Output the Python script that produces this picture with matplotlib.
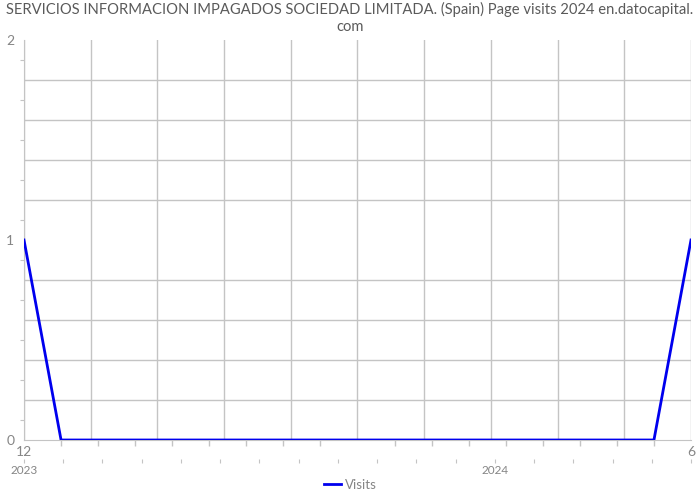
import matplotlib
matplotlib.use("Agg")
import matplotlib.pyplot as plt
import numpy as np

# weekly-ish points, Dec 2023 .. Jun 2024
visits = [1, 0, 0, 0, 0, 0, 0, 0, 0, 0, 0, 0, 0, 0, 0, 0, 0, 0, 1]
x = np.arange(len(visits))
year_labels = {0: "2023", 12: "2024"}
end_labels = ["12", "6"]

grey = "#858585"
grid_col = "#c4c4c4"
plt.rcParams["font.family"] = ["Lato", "DejaVu Sans"]

fig = plt.figure(figsize=(7, 5), dpi=100)
ax = fig.add_axes([24 / 700, 0.12, 667 / 700, 0.80])

ax.plot(x, visits, color="#0000ee", lw=2, label="Visits", zorder=3)

ax.set_xlim(0, len(visits) - 1)
ax.set_ylim(0, 2)

# grid
ax.set_xticks(np.linspace(0, len(visits) - 1, 11))
ax.set_xticklabels([])
ax.set_xticks(x, minor=True)
ax.set_yticks([0, 1, 2])
ax.set_yticks(np.arange(0, 2.01, 0.2), minor=True)
ax.grid(True, which="major", axis="x", color=grid_col, lw=1)
ax.grid(True, which="minor", axis="y", color=grid_col, lw=1)
ax.tick_params(axis="x", which="major", length=0)
ax.tick_params(axis="x", which="minor", length=4, color=grid_col, width=1)
ax.tick_params(axis="y", which="both", length=0, labelsize=10, labelcolor=grey, pad=7)

for s in ["top", "right"]:
    ax.spines[s].set_visible(False)
for s in ["left", "bottom"]:
    ax.spines[s].set_color(grid_col)

# small marks between the y grid lines
sy = ax.secondary_yaxis("left")
sy.set_yticks(np.arange(0.1, 2, 0.2))
sy.set_yticklabels([])
sy.tick_params(length=3, color=grid_col)
sy.spines["left"].set_visible(False)

# second row of x ticks with year labels
n2 = 18
pos2 = np.linspace(0, len(visits) - 1, n2)
sx = ax.secondary_xaxis(-0.0475)
sx.set_xticks(pos2)
sx.set_xticklabels([year_labels.get(i, "") for i in range(n2)])
sx.tick_params(length=3, color=grid_col, labelsize=8.5, labelcolor=grey, pad=1)
sx.spines["bottom"].set_visible(False)

ax.text(0, -0.03, end_labels[0], transform=ax.get_xaxis_transform(),
        ha="center", va="center", fontsize=10, color=grey)
ax.text(len(visits) - 1, -0.03, end_labels[1], transform=ax.get_xaxis_transform(),
        ha="center", va="center", fontsize=10, color=grey)

fig.suptitle("SERVICIOS INFORMACION IMPAGADOS SOCIEDAD LIMITADA. (Spain) Page visits 2024 en.datocapital.\ncom",
             y=0.996, fontsize=10.6, color="#5a5a5a", linespacing=1.3)

fig.legend(loc="lower center", bbox_to_anchor=(0.5, -0.005), frameon=False,
           fontsize=9.5, labelcolor=grey, handlelength=1.3, handletextpad=0.3)

fig.savefig("out.png", dpi=100)
